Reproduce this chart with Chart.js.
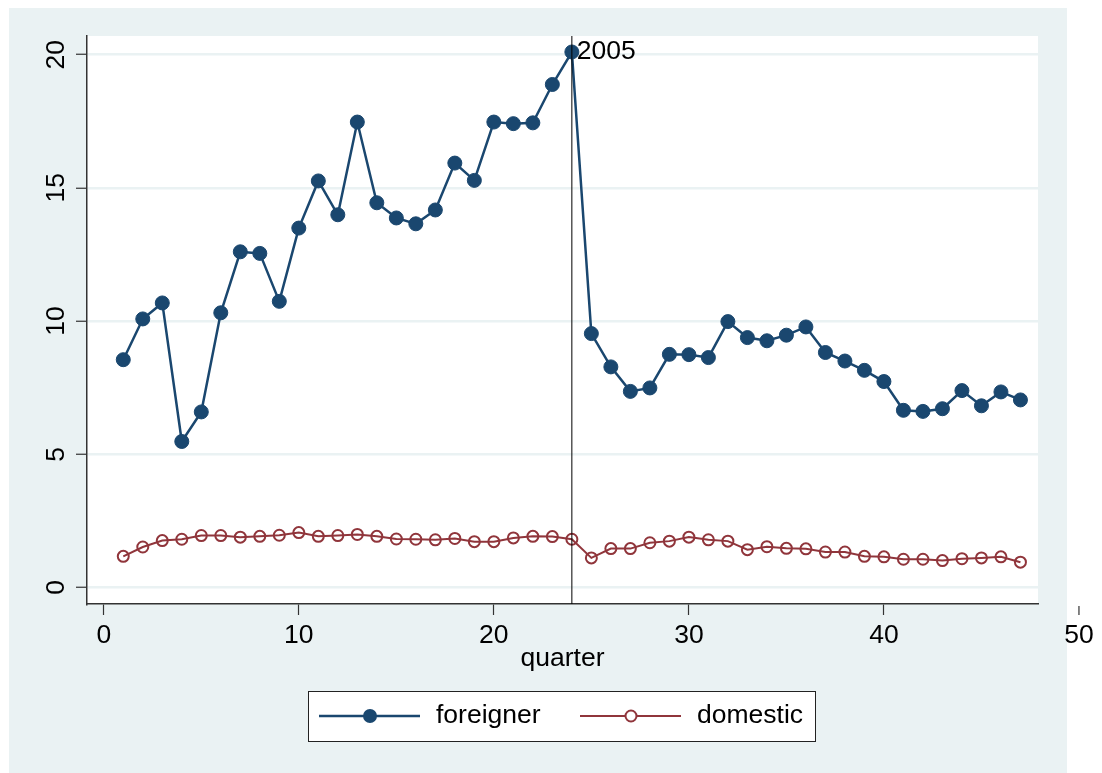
<!DOCTYPE html>
<html>
<head>
<meta charset="utf-8">
<script src="https://cdn.jsdelivr.net/npm/chart.js@4/dist/chart.umd.min.js"></script>
<style>
  html, body { margin: 0; padding: 0; background: #fff; }
  #wrap { width: 1102px; height: 773px; }
</style>
</head>
<body>
<div id="wrap"><canvas id="lineChart" width="1102" height="773"></canvas></div>
<script>
// data
const quarters = [1, 2, 3, 4, 5, 6, 7, 8, 9, 10, 11, 12, 13, 14, 15, 16, 17, 18, 19, 20, 21, 22, 23, 24,
  25, 26, 27, 28, 29, 30, 31, 32, 33, 34, 35, 36, 37, 38, 39, 40, 41, 42, 43, 44, 45, 46, 47];
const foreigner = [8.55, 10.08, 10.68, 5.48, 6.59, 10.31, 12.60, 12.54, 10.74, 13.49, 15.26, 13.99,
  17.47, 14.44, 13.87, 13.65, 14.17, 15.93, 15.28, 17.47, 17.41, 17.44, 18.88, 20.10,
  9.53, 8.28, 7.36, 7.49, 8.75, 8.74, 8.63, 9.98, 9.38, 9.26, 9.47, 9.78, 8.82, 8.50,
  8.15, 7.73, 6.65, 6.61, 6.71, 7.39, 6.82, 7.34, 7.04];
const domestic = [1.17, 1.52, 1.76, 1.81, 1.95, 1.95, 1.89, 1.92, 1.96, 2.06, 1.92, 1.95,
  1.99, 1.92, 1.82, 1.81, 1.79, 1.84, 1.72, 1.72, 1.86, 1.92, 1.91, 1.81,
  1.11, 1.46, 1.46, 1.68, 1.74, 1.89, 1.79, 1.74, 1.42, 1.53, 1.47, 1.45, 1.33, 1.33,
  1.17, 1.15, 1.06, 1.06, 1.01, 1.08, 1.11, 1.15, 0.95];
const xTicks = [0, 10, 20, 30, 40, 50];
const yTicks = [0, 5, 10, 15, 20];
const breakQuarter = 24;
const breakLabel = '2005';

const NAVY = '#1a476f';
const MAROON = '#90353b';
const BLUISH = '#eaf2f3';
const AXIS = '#333333';
const FONT = '"Liberation Sans", Arial, sans-serif';
const FSIZE = 26.5;

const toPoints = (ys) => quarters.map((q, i) => ({ x: q, y: ys[i] }));

// stata-ish frame: light bluish outer box, white plot region
const frame = {
  id: 'frame',
  beforeDraw(chart) {
    const { ctx, chartArea: a } = chart;
    ctx.save();
    ctx.fillStyle = '#fff';
    ctx.fillRect(0, 0, chart.width, chart.height);
    ctx.fillStyle = BLUISH;
    ctx.fillRect(9, 8, 1058, 765);
    ctx.fillStyle = '#fff';
    ctx.fillRect(a.left, a.top, a.right - a.left, a.bottom - a.top);
    ctx.restore();
  }
};

// rotated y labels, the x tick past the axis end, the break line and legend
const extras = {
  id: 'extras',
  afterDraw(chart) {
    const { ctx, chartArea: a, scales: { x, y } } = chart;
    ctx.save();
    ctx.fillStyle = '#000';
    ctx.font = FSIZE + 'px ' + FONT;

    // y tick labels, turned 90 degrees
    yTicks.forEach(v => {
      ctx.save();
      ctx.translate(64, y.getPixelForValue(v));
      ctx.rotate(-Math.PI / 2);
      ctx.textAlign = 'center';
      ctx.textBaseline = 'alphabetic';
      ctx.fillText(String(v), 0, 0);
      ctx.restore();
    });

    // ticks beyond the x range
    xTicks.filter(v => v > x.max).forEach(v => {
      const px = x.getPixelForValue(v);
      ctx.strokeStyle = AXIS;
      ctx.lineWidth = 1.2;
      ctx.beginPath();
      ctx.moveTo(px, a.bottom + 2);
      ctx.lineTo(px, a.bottom + 11);
      ctx.stroke();
      ctx.textAlign = 'center';
      ctx.textBaseline = 'middle';
      ctx.fillText(String(v), px, 636);
    });

    // vertical line at the break + label
    const bx = x.getPixelForValue(breakQuarter);
    ctx.strokeStyle = '#000';
    ctx.lineWidth = 1;
    ctx.beginPath();
    ctx.moveTo(bx, a.top);
    ctx.lineTo(bx, a.bottom);
    ctx.stroke();
    const by = y.getPixelForValue(foreigner[quarters.indexOf(breakQuarter)]);
    ctx.textAlign = 'left';
    ctx.textBaseline = 'middle';
    ctx.fillText(breakLabel, bx + 5, by);

    // legend
    ctx.fillStyle = '#fff';
    ctx.fillRect(308.5, 691.5, 507, 50);
    ctx.strokeStyle = '#222';
    ctx.lineWidth = 1;
    ctx.strokeRect(308.5, 691.5, 507, 50);
    const ly = 716;
    chart.data.datasets.forEach((ds, i) => {
      const x0 = i === 0 ? 319 : 580;
      ctx.strokeStyle = ds.borderColor;
      ctx.lineWidth = ds.borderWidth;
      ctx.beginPath();
      ctx.moveTo(x0, ly);
      ctx.lineTo(x0 + 101, ly);
      ctx.stroke();
      ctx.beginPath();
      ctx.arc(x0 + 51, ly, ds.pointRadius, 0, Math.PI * 2);
      if (ds.pointBackgroundColor !== 'transparent') {
        ctx.fillStyle = ds.pointBackgroundColor;
        ctx.fill();
      } else {
        ctx.fillStyle = '#fff';
        ctx.fill();
        ctx.lineWidth = ds.pointBorderWidth;
        ctx.stroke();
      }
      ctx.fillStyle = '#000';
      ctx.textAlign = 'left';
      ctx.textBaseline = 'middle';
      ctx.fillText(ds.label, x0 + 117, ly);
    });
    ctx.restore();
  }
};

new Chart(document.getElementById('lineChart').getContext('2d'), {
  type: 'line',
  data: {
    datasets: [{
      label: 'foreigner',
      data: toPoints(foreigner),
      borderColor: NAVY,
      borderWidth: 2.5,
      pointRadius: 7,
      pointBackgroundColor: NAVY,
      pointBorderColor: NAVY,
      pointBorderWidth: 1,
      tension: 0
    }, {
      label: 'domestic',
      data: toPoints(domestic),
      borderColor: MAROON,
      borderWidth: 2,
      pointRadius: 5.5,
      pointBackgroundColor: 'transparent',
      pointBorderColor: MAROON,
      pointBorderWidth: 2,
      tension: 0
    }]
  },
  options: {
    responsive: false,
    animation: false,
    events: [],
    layout: { padding: { top: 36, right: 64, left: 0, bottom: 93 } },
    plugins: { legend: { display: false }, tooltip: { enabled: false } },
    scales: {
      x: {
        type: 'linear',
        min: -0.86,
        max: 47.9,
        afterBuildTicks: (s) => { s.ticks = xTicks.filter(v => v <= s.max).map(v => ({ value: v })); },
        afterFit: (s) => { s.height = 76; },
        grid: { drawOnChartArea: false, drawTicks: true, tickLength: 11, tickColor: AXIS, tickWidth: 1.2 },
        border: { display: true, color: AXIS, width: 1.5 },
        ticks: { color: '#000', font: { family: FONT, size: FSIZE }, padding: 5, maxRotation: 0, autoSkip: false },
        title: { display: true, text: 'quarter', color: '#000', font: { family: FONT, size: FSIZE }, padding: { top: 0, bottom: 5 } }
      },
      y: {
        type: 'linear',
        min: -0.62,
        max: 20.7,
        afterBuildTicks: (s) => { s.ticks = yTicks.map(v => ({ value: v })); },
        afterFit: (s) => { s.width = 87; },
        grid: { color: BLUISH, lineWidth: 2.5, drawTicks: true, tickLength: 11, tickColor: AXIS, tickWidth: 1.2 },
        border: { display: true, color: AXIS, width: 1.5 },
        ticks: { display: false }
      }
    }
  },
  plugins: [frame, extras]
});
</script>
</body>
</html>
